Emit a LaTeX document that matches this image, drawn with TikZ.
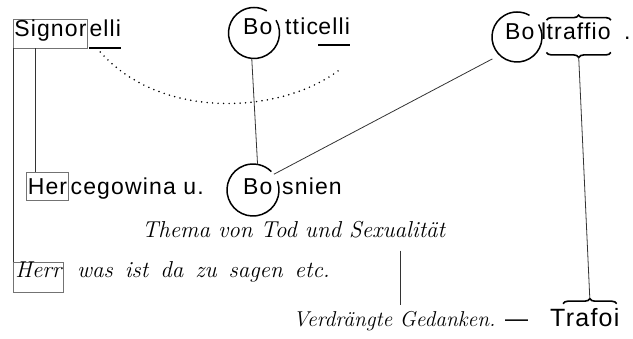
\documentclass[tikz,border=0pt]{standalone}
\usepackage{fontspec}
\newfontfamily\gsans[LetterSpace=5]{Liberation Sans}
\usetikzlibrary{decorations.pathreplacing,calc}
\begin{document}
\begin{tikzpicture}[x=1pt,y=-1pt,
  sans/.style={font=\gsans\fontsize{23}{27}\selectfont, inner sep=0pt, anchor=base west},
  ital/.style={font={\fontsize{#1}{25}\selectfont\itshape\addfontfeature{LetterSpace=4}}, inner sep=0pt, anchor=base west},
  ital/.default=23,
  namebox/.style={draw=black!55, line width=0.6pt},
  ring/.style={line width=1.5pt},
  ringspot/.style={circle, inner sep=0pt, minimum size=#1},
  link/.style={line width=0.8pt, draw=black!80},
  uline/.style={line width=2pt},
  dots/.style={line width=1.7pt, line cap=round, dash pattern=on 0pt off 5.5pt},
  bracestyle/.style={decorate, decoration={brace, amplitude=5pt}, line width=1.6pt}
]
\useasboundingbox (0,0) rectangle (633,339);

% Signorelli
\node[sans, namebox, text height=18pt, text depth=11pt, inner xsep=1pt] (signor) at (13,37) {Signor};
\node[sans] (elli1) at ([xshift=1.5pt]signor.base east) {elli};
\draw[uline] ($(elli1.base west)+(0,11)$) -- ($(elli1.base east)+(0,11)$);

% Botticelli
\node[sans] (bo1) at (243,35) {Bo};
\node[sans] (ttic) at (285,35) {ttic};
\node[sans] (elli2) at (ttic.base east) {elli};
\draw[uline] ($(elli2.base west)+(0,10)$) -- ($(elli2.base east)+(0,10)$);
\node[ringspot=51pt] (c1) at (254,33) {};
\draw[ring] ($(c1.center)+(-30:25.5)$) arc[start angle=-30, end angle=300, radius=25.5];

% Boltraffio
\node[sans] (bo2) at (505,40) {Bo};
\node[sans] (lt) at (541,40) {l};
\node[sans] (traffio) at (lt.base east) {traffio};
\node[sans] (dot) at (624,40) {.};
\node[ringspot=50pt] (c2) at (517,37) {};
\draw[ring] ($(c2.center)+(-30:25)$) arc[start angle=-30, end angle=300, radius=25];
\draw[bracestyle] ([yshift=3pt]traffio.north west) -- ([yshift=3pt]traffio.north east);
\draw[bracestyle] ([yshift=-12pt]traffio.south east) -- ([yshift=-12pt]traffio.south west);
\coordinate (tb) at ($(traffio.south)+(0,17)$);

% Hercegowina u. Bosnien
\node[sans, namebox, text height=23pt, text depth=5pt, inner xsep=1.5pt] (her) at (26,195) {Her};
\node[sans] (ceg) at ([xshift=1.5pt]her.base east) {cegowina u.};
\node[sans] (bo3) at (243,195) {Bo};
\node[sans] (snien) at (282,195) {snien};
\node[ringspot=52pt] (c3) at (253,190) {};
\draw[ring] ($(c3.center)+(-20:26)$) arc[start angle=-20, end angle=315, radius=26];

% italic lines
\node[ital] (thema) at (142,238) {Thema von Tod und Sexualität};
\node[ital, namebox, text height=16pt, text depth=14pt, inner xsep=2pt] (herr) at (13,278) {Herr};
\node[ital=23] (was) at (77,278) {\spaceskip=12pt was ist da zu sagen etc.};
\node[ital=21.5] (verd) at (293,327) {Verdrängte Gedanken.};
\node[sans] (dash) at (505,327) {—};
\node[sans, font=\gsans\fontsize{25}{29}\selectfont] (trafoi) at (550,327) {Trafoi};
\draw[bracestyle] ([xshift=13pt,yshift=5pt]trafoi.north west) -- ([xshift=-3pt,yshift=5pt]trafoi.north east);
\coordinate (tt) at ($([xshift=13pt,yshift=5pt]trafoi.north west)!0.5!([xshift=-3pt,yshift=5pt]trafoi.north east)+(0,-5)$);

% connectors
\draw[link] (signor.south west) -- (herr.north west);
\coordinate (hx) at (35,0);
\draw[link] (signor.south -| hx) -- (her.north -| hx);
\draw[link] (c1.-95) -- (c3.80);
\draw[link, shorten >=8pt] (c3.37) -- (c2.226);
\draw[link] (tb) -- (tt);
\coordinate (vx) at (400,0);
\draw[link] ($(thema.south -| vx)+(0,12)$) -- ($(verd.north -| vx)+(0,-7)$);

% dotted curve
\coordinate (d1) at ($(elli1.base west)+(11,15)$);
\coordinate (d2) at ($(elli2.base)+(5,35)$);
\draw[dots] (d1) .. controls (160,120) and (280,115) .. (d2);
\end{tikzpicture}
\end{document}
